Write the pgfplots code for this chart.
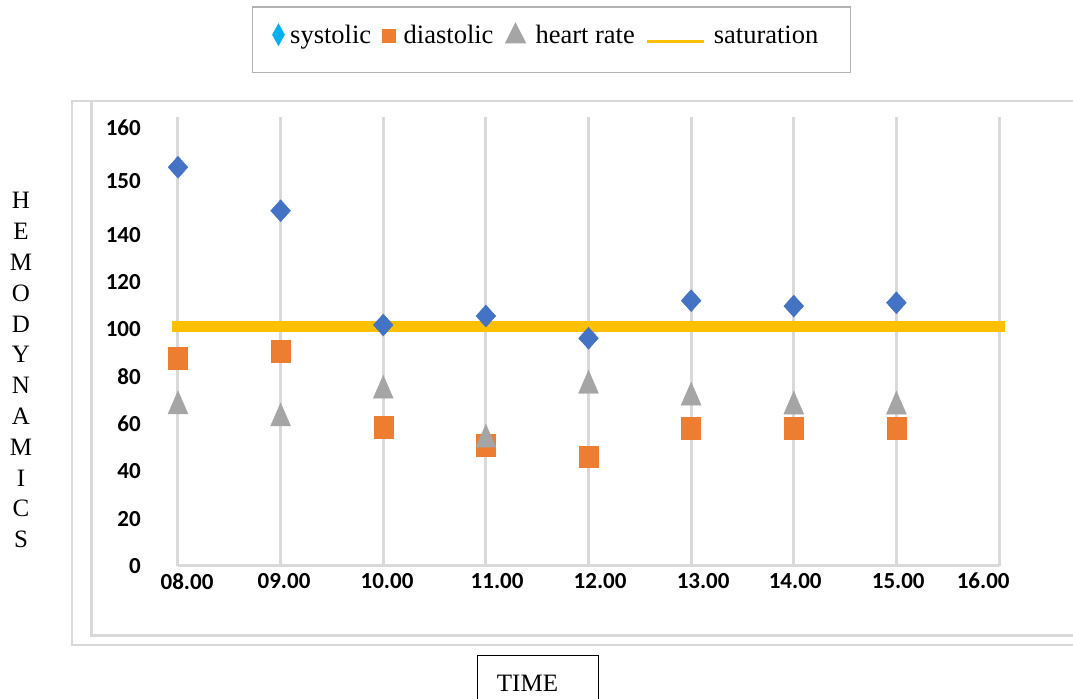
\documentclass[border=0pt]{standalone}
\usepackage{pgfplots}
\pgfplotsset{compat=1.18}
\usepackage{fontspec}
\setmainfont{Liberation Serif}
\newfontfamily\carlito{Carlito}
\definecolor{sysblue}{HTML}{4472C4}
\definecolor{diaorange}{HTML}{ED7D31}
\definecolor{hrgray}{HTML}{A5A5A5}
\definecolor{satyellow}{HTML}{FFC000}
\definecolor{legcyan}{HTML}{00B0F0}
\definecolor{gridgray}{HTML}{D9D9D9}
\definecolor{legendgray}{HTML}{B3B3B3}
\begin{document}
\begin{tikzpicture}[x=1bp,y=1bp]
% chart frames
\draw[gridgray, line width=2bp] (-106,465) -- (-106,-79) -- (910,-79);
\draw[gridgray, line width=2bp] (-107,465) -- (910,465);
\draw[gridgray, line width=3bp] (-86,465) -- (-86,-70) -- (910,-70);
\begin{axis}[
  at={(0,0)}, anchor=south west,
  x=102.625bp, y=2.365bp,
  xmin=0, xmax=8, ymin=0, ymax=190,
  clip=false,
  axis x line*=bottom, axis y line*=left,
  x axis line style={-, draw=gridgray, line width=3bp},
  y axis line style={draw=none},
  major tick length=0pt,
  xtick={0.088,1.033,2.037,3.109,4.113,5.117,6.014,7.018,7.846},
  xticklabels={08.00,09.00,10.00,11.00,12.00,13.00,14.00,15.00,16.00},
  extra x ticks={0,1,2,3,4,5,6,7,8},
  extra x tick labels={},
  extra x tick style={grid=major},
  major grid style={draw=gridgray, line width=3bp},
  ytick={0,20,40,60,80,100,120,140,162.8,185.2},
  yticklabels={0,20,40,60,80,100,120,140,150,160},
  ticklabel style={font=\fontsize{23bp}{24bp}\selectfont\carlito\bfseries},
  yticklabel style={anchor=east, inner sep=0pt, xshift=-37bp},
  xticklabel style={anchor=north, inner sep=0pt, yshift=-7bp},
  legend columns=4,
  legend cell align=left,
  legend style={at={(axis description cs:0.0901,1.2462)}, anchor=north west,
    draw=legendgray, line width=1.5bp, inner xsep=17bp, inner ysep=17bp,
    font=\fontsize{26.5bp}{29bp}\selectfont,
    nodes={inner xsep=0pt, inner ysep=0pt, text height=14bp, text depth=12bp},
    /tikz/column 2/.style={column sep=8.5bp},
    /tikz/column 4/.style={column sep=12.5bp},
    /tikz/column 6/.style={column sep=11bp}},
]
\addplot[only marks, mark=diamond*, mark size=11bp,
  mark options={xscale=1.2, draw=sysblue, fill=sysblue},
  legend image code/.code={\path (0bp,0bp) (17bp,0bp);
    \draw[only marks, mark=diamond*, mark size=10bp, mark options={xscale=0.73, draw=legcyan, fill=legcyan}] plot coordinates {(8bp,8bp)};}]
coordinates {(0,168.6)(1,150.2)(2,101.9)(3,105.7)(4,96.3)(5,112.2)(6,109.9)(7,111.3)};
\addlegendentry{\hspace{2bp}systolic}
\addplot[only marks, mark=square*, mark size=9.5bp,
  mark options={yscale=1.15, draw=diaorange, fill=diaorange},
  legend image code/.code={\path (0bp,0bp) (17bp,0bp);
    \draw[only marks, mark=square*, mark size=6bp, mark options={yscale=1.08, draw=diaorange, fill=diaorange}] plot coordinates {(8.5bp,6.5bp)};}]
coordinates {(0,87.9)(1,91.0)(2,58.8)(3,51.0)(4,46.2)(5,58.2)(6,58.2)(7,58.2)};
\addlegendentry{\hspace{5.5bp}diastolic}
\addplot[only marks, mark=triangle*, mark size=11.5bp,
  mark options={yscale=1.33, yshift=-2.9bp, draw=hrgray, fill=hrgray},
  legend image code/.code={\path (0bp,0bp) (17bp,0bp);
    \draw[only marks, mark=triangle*, mark size=11bp, mark options={yscale=1.15, draw=hrgray, fill=hrgray}] plot coordinates {(8.5bp,6.3bp)};}]
coordinates {(0,69.2)(1,64.1)(2,75.8)(3,55.1)(4,77.9)(5,72.9)(6,69.1)(7,69.1)};
\addlegendentry{\hspace{10.5bp}heart rate}
\addplot[satyellow, line width=11bp, line cap=rect,
  legend image code/.code={\draw[satyellow, line width=3bp, line cap=butt] (0bp,1bp) -- (57bp,1bp);}]
coordinates {(0,101.2)(8,101.2)};
\addlegendentry{\hspace{8bp}saturation\hspace{15bp}\mbox{}}
\end{axis}
% vertical axis title
\foreach \l [count=\i from 0] in {H,E,M,O,D,Y,N,A,M,I,C,S}
  \node[anchor=base, inner sep=0pt, font=\fontsize{25bp}{30bp}\selectfont] at ({-157},{357-30.8*\i}) {\l};
% horizontal axis title
\draw[black, line width=1bp] (299,-140) -- (299,-90) -- (420,-90) -- (420,-140);
\node[anchor=base, inner sep=0pt, font=\fontsize{25bp}{30bp}\selectfont] at (349.5,-126) {TIME};
\pgfresetboundingbox
\useasboundingbox (-178,-133) rectangle (895,566);
\end{tikzpicture}
\end{document}
